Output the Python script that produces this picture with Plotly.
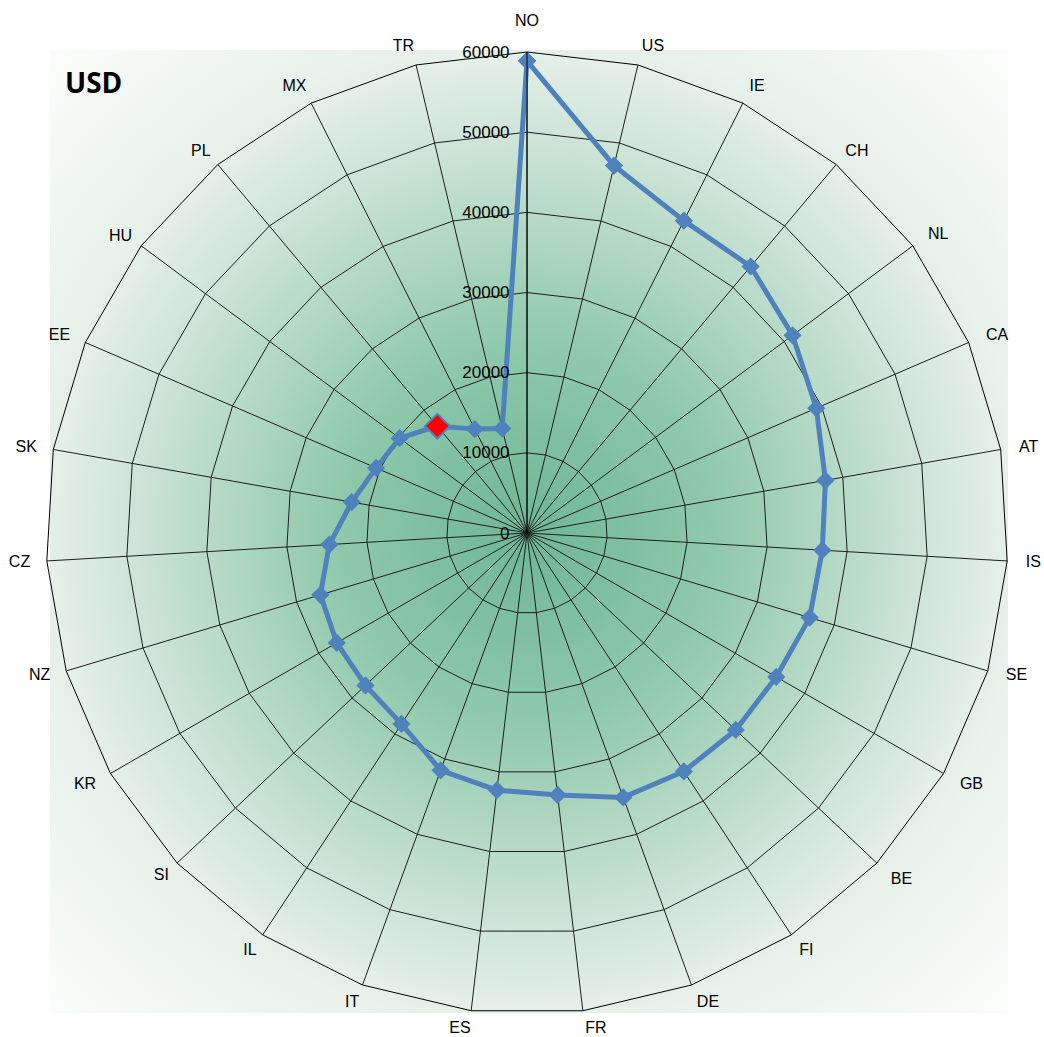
import base64
import plotly.graph_objects as go

countries = ["NO", "US", "IE", "CH", "NL", "CA", "AT", "IS", "SE", "GB", "BE", "FI", "DE", "FR",
             "ES", "IT", "IL", "SI", "KR", "NZ", "CZ", "SK", "EE", "HU", "PL", "MX", "TR"]
usd = [58900, 47100, 43600, 43400, 41300, 39300, 37800, 36900, 36800, 35900, 35800, 35600, 35100,
       32900, 32300, 31500, 28500, 27700, 27400, 26900, 24700, 22200, 20500, 19800, 17400, 14500, 13400]
highlight = "PL"

W, H = 1044, 1037
RMAX = 60000
# radar area (pixels): centre and outer radius
CX, CY, RAD = 527, 533, 481

# category-label groups: (labels, centre x, centre y, label distance)
label_groups = [
    (["NO"], 527, 533, 19),
    (["US", "IE", "CH", "HU", "PL", "MX", "TR"], 528, 533, 9),
    (["NL", "CA", "AT", "EE", "SK"], 528, 534, 14),
    (["IS", "CZ"], 528, 531, 14),
    (["SE", "GB", "BE", "KR", "NZ"], 528, 527, 14),
    (["FI", "DE", "FR", "ES", "IT", "IL", "SI"], 528, 526, 9),
]


def dom(cx, cy, rad):
    return dict(x=[(cx - rad) / W, (cx + rad) / W],
                y=[(H - (cy + rad)) / H, (H - (cy - rad)) / H])


# background radial gradient (square area behind the radar)
gx0, gy0, gx1, gy1 = 50, 50, 1008, 1013
gw, gh = gx1 - gx0, gy1 - gy0
cx, cy = CX - gx0, CY - gy0
svg = f"""<svg xmlns='http://www.w3.org/2000/svg' width='{gw}' height='{gh}' viewBox='0 0 {gw} {gh}' preserveAspectRatio='none'>
<defs><radialGradient id='g' gradientUnits='userSpaceOnUse' cx='{cx}' cy='{cy}' r='680'>
<stop offset='0' stop-color='rgb(110,182,148)'/>
<stop offset='0.28' stop-color='rgb(143,201,171)'/>
<stop offset='0.59' stop-color='rgb(208,229,217)'/>
<stop offset='0.71' stop-color='rgb(230,240,233)'/>
<stop offset='1' stop-color='rgb(252,253,252)'/>
</radialGradient></defs>
<rect x='0' y='0' width='{gw}' height='{gh}' fill='url(#g)'/></svg>"""
src = "data:image/svg+xml;base64," + base64.b64encode(svg.encode()).decode()

theta = countries + [countries[0]]
r = usd + [usd[0]]
blue = "#4f81bd"

fig = go.Figure()
fig.add_trace(go.Scatterpolar(
    r=r, theta=theta, mode="lines+markers",
    line=dict(color=blue, width=5),
    marker=dict(symbol="diamond", size=14, color=blue),
    hoverinfo="skip", showlegend=False, subplot="polar"))
hi = countries.index(highlight)
fig.add_trace(go.Scatterpolar(
    r=[usd[hi]], theta=[highlight], mode="markers",
    marker=dict(symbol="diamond", size=19, color="red", line=dict(color=blue, width=2)),
    hoverinfo="skip", showlegend=False, subplot="polar"))

layout_polars = {}
for k, (labels, lx, ly, tl) in enumerate(label_groups, start=2):
    name = f"polar{k}"
    # invisible helper trace so the category axis knows every category
    fig.add_trace(go.Scatterpolar(
        r=[0] * len(countries), theta=countries, mode="markers",
        marker=dict(opacity=0, size=1), hoverinfo="skip", showlegend=False, subplot=name))
    layout_polars[name] = dict(
        bgcolor="rgba(0,0,0,0)",
        domain=dom(lx, ly, RAD),
        angularaxis=dict(
            type="category", categoryarray=countries, categoryorder="array",
            direction="clockwise", rotation=90,
            showline=False, showgrid=False,
            tickmode="array", tickvals=labels,
            ticks="outside", ticklen=tl, tickcolor="rgba(0,0,0,0)",
            tickfont=dict(family="Liberation Sans, Arial, sans-serif", size=16, color="black")),
        radialaxis=dict(range=[0, 1], visible=False))

fig.update_layout(
    width=W, height=H,
    margin=dict(l=0, r=0, t=0, b=0),
    paper_bgcolor="white",
    font=dict(family="Liberation Sans, Arial, sans-serif", size=16, color="black"),
    polar=dict(
        bgcolor="rgba(0,0,0,0)",
        gridshape="linear",
        domain=dom(CX, CY, RAD),
        angularaxis=dict(
            type="category", categoryarray=countries, categoryorder="array",
            direction="clockwise", rotation=90,
            showline=True, linecolor="black", linewidth=1,
            gridcolor="rgb(30,30,30)", gridwidth=0.8,
            ticks="", showticklabels=False),
        radialaxis=dict(
            range=[0, RMAX], dtick=10000, angle=90, side="counterclockwise",
            tickangle=90,
            showline=True, linecolor="black", linewidth=1,
            gridcolor="rgb(30,30,30)", gridwidth=0.8,
            ticks="outside", ticklen=11, tickcolor="rgba(0,0,0,0)",
            tickfont=dict(size=17), tickformat="d")),
    images=[dict(source=src, xref="paper", yref="paper",
                 x=gx0 / W, y=1 - gy0 / H,
                 sizex=gw / W, sizey=gh / H,
                 xanchor="left", yanchor="top", sizing="stretch", layer="below")],
    annotations=[dict(text="<b>USD</b>", xref="paper", yref="paper",
                      x=63 / W, y=1 - 82 / H,
                      xanchor="left", yanchor="middle", showarrow=False,
                      font=dict(family="Open Sans, Liberation Sans, sans-serif", size=28, color="black"))],
    **layout_polars,
)

fig.write_html("out.html", config={"displayModeBar": False},
               post_script="document.body.style.margin='0';")
